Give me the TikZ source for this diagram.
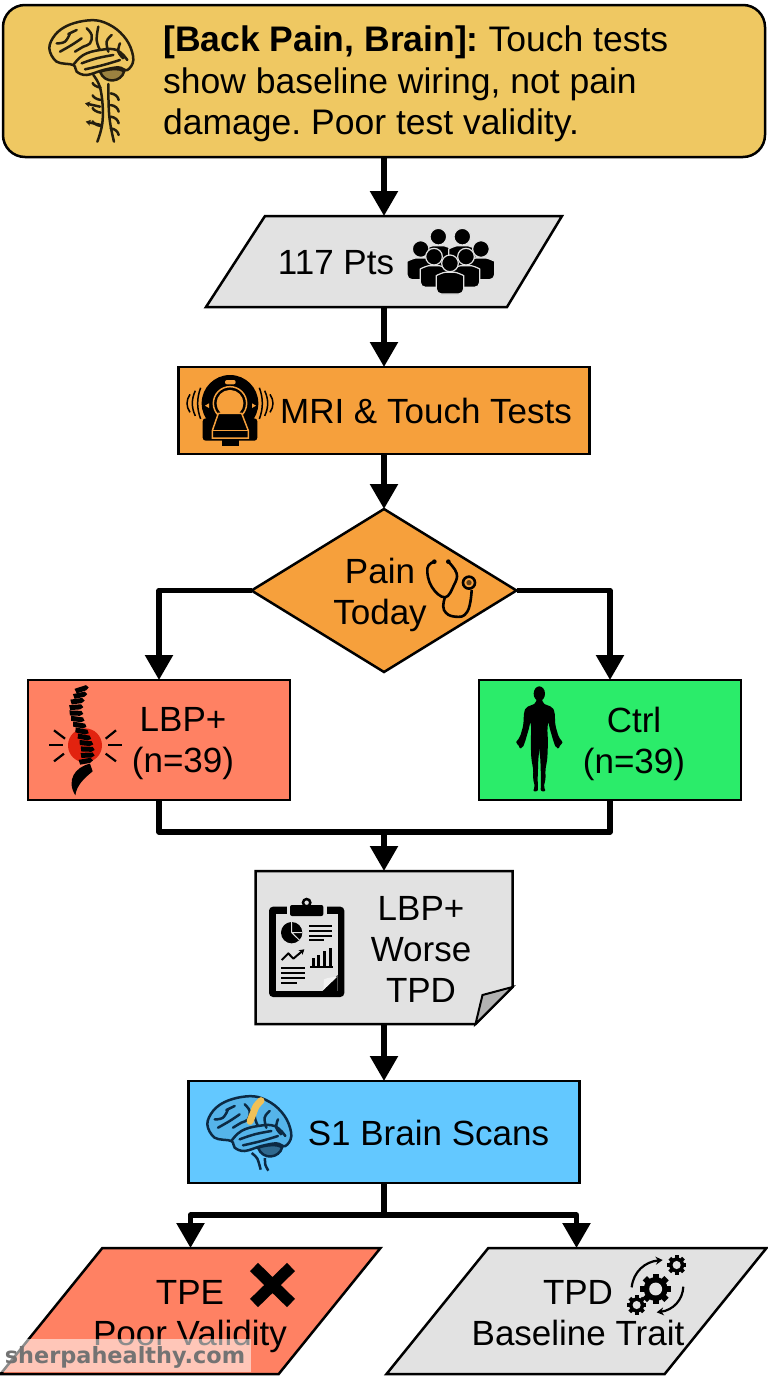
\documentclass[tikz,border=0pt]{standalone}
\usepackage{fontspec}
\setmainfont{Liberation Sans}
\newfontfamily\markfont{DejaVu Sans}
\usetikzlibrary{shapes.geometric,arrows.meta,positioning}
\definecolor{claimcol}{HTML}{EFC862}
\definecolor{greycol}{HTML}{E2E2E2}
\definecolor{orangecol}{HTML}{F6A03C}
\definecolor{redcol}{HTML}{FF8163}
\definecolor{greencol}{HTML}{2BEC6A}
\definecolor{bluecol}{HTML}{63C8FF}
\definecolor{inkcol}{HTML}{0C2A44}
\definecolor{cortexcol}{HTML}{55B4EA}
\definecolor{hurtcol}{HTML}{E2230F}
\tikzstyle{outlined} = [draw=black, line width=2.5pt, inner sep=0pt, outer sep=0pt]
\tikzstyle{box} = [outlined, rectangle, minimum width=#1]
\tikzstyle{para} = [outlined, trapezium, trapezium stretches=true, fill=greycol, inner sep=1pt, trapezium left angle=60, trapezium right angle=120]
\tikzstyle{frame} = [rectangle, inner sep=0pt, outer sep=0pt]
\tikzstyle{txt} = [font=\fontsize{35}{41}\selectfont, align=center, inner sep=0pt]
\tikzstyle{conn} = [draw, line width=5.5pt, line join=round]
\tikzstyle{line} = [conn, -{Triangle[width=27pt,length=25pt]}]
\tikzset{
  pics/brainicon/.style n args={3}{code={
    \draw [#1, line width=2.5pt, fill=#2] plot [smooth cycle, tension=.6] coordinates {(100,165) (50,155) (28,115) (45,75) (80,48) (130,33) (180,33) (230,58) (266,100) (280,150) (262,180) (235,172) (190,180) (140,195) (110,185)};
    \draw [#1, line width=2.5pt, fill=#3] (180,185) .. controls (200,178) and (240,172) .. (252,185) .. controls (245,215) and (195,225) .. (180,185);
    \draw [#1, line width=2.5pt, line cap=round] plot [smooth, tension=.7] coordinates {(50,100) (75,95) (90,70)}
      plot [smooth, tension=.7] coordinates {(85,72) (110,60)}
      plot [smooth, tension=.7] coordinates {(60,125) (95,105) (125,85)}
      plot [smooth, tension=.7] coordinates {(140,55) (155,75) (150,100) (130,110) (105,125)}
      plot [smooth, tension=.7] coordinates {(175,50) (170,90) (180,120)}
      plot [smooth, tension=.7] coordinates {(215,75) (200,95) (205,125)}
      plot [smooth, tension=.7] coordinates {(240,100) (235,125) (250,145)}
      plot [smooth, tension=.7] coordinates {(100,165) (130,135) (180,120) (230,120) (262,150)}
      plot [smooth, tension=.7] coordinates {(125,160) (170,145) (220,135)}
      plot [smooth, tension=.7] coordinates {(135,178) (190,165) (240,150)};
  }},
  pics/gearicon/.style={code={
    \fill (0,0) circle (#1*0.78);
    \foreach \a in {0,45,...,315}
      \fill [rotate=\a] (-#1*.2,0) rectangle (#1*.2,#1);
    \fill [greycol] (0,0) circle (#1*.42);
  }},
  pics/headicon/.style={code={
    \draw [greycol, line width=1.2pt, fill=black, rounded corners=5pt] (-41,92) -- (-41,52) .. controls (-41,36) and (-20,27) .. (0,27) .. controls (20,27) and (41,36) .. (41,52) -- (41,92) -- cycle;
    \draw [greycol, line width=1.2pt, fill=black] (0,0) circle (25);
  }}
}
\begin{document}
\frenchspacing
\begin{tikzpicture}[x=1pt, y=-1pt]
    \useasboundingbox (0,0) rectangle (768,1376);
    \node [box=762pt, minimum height=152pt, fill=claimcol, rounded corners=22pt] (claim) at (384,81) {};
    \node [frame, below=59pt of claim, minimum width=356pt, minimum height=91pt] (pts) {};
    \draw [line width=2.5pt, fill=greycol] ([xshift=59pt]pts.north west) -- (pts.north east) -- ([xshift=-55pt]pts.south east) -- (pts.south west) -- cycle;
    \node [box=411pt, below=60pt of pts, minimum height=87pt, fill=orangecol] (mri) {};
    \node [outlined, diamond, below=55pt of mri, minimum width=265pt, minimum height=163pt, fill=orangecol] (pain) {};
    \node [box=262pt, below=8pt of pain, xshift=-225pt, minimum height=120pt, fill=redcol] (lbp) {};
    \node [box=262pt, below=8pt of pain, xshift=226pt, minimum height=120pt, fill=greencol] (ctrl) {};
    \node [frame, below=199pt of pain, minimum width=257pt, minimum height=153pt] (report) {};
    \draw [line width=2.5pt, fill=greycol] (report.north west) -- (report.north east) -- ([yshift=37pt]report.south east) -- ([xshift=-37pt]report.south east) -- (report.south west) -- cycle;
    \draw [line width=2pt, fill=gray!60] ([xshift=-37pt]report.south east) .. controls ([xshift=-33pt,yshift=15pt]report.south east) .. ([xshift=-30pt,yshift=29pt]report.south east) -- ([yshift=37pt]report.south east) -- cycle;
    \node [box=391pt, below=57pt of report, minimum height=102pt, fill=bluecol] (sbrain) {};
    \node [para, below=65pt of sbrain, xshift=-193.5pt, minimum width=380pt, minimum height=126pt, fill=redcol] (tpe) {};
    \node [para, below=65pt of sbrain, xshift=192.5pt, minimum width=380pt, minimum height=126pt] (tpd) {};
    % labels
    \node [txt, align=left, anchor=north west, font=\fontsize{35.5}{41.5}\selectfont] (claimtxt) at (163,26) {\textbf{[Back Pain, Brain]:} Touch tests\\show baseline wiring, not pain\\damage. Poor test validity.};
    \node [txt] (ptstxt) at (336,263) {117 Pts};
    \node [txt] (mritxt) at (426,411) {MRI \& Touch Tests};
    \node [txt] (paintxt) at (380,595) {Pain\\Today};
    \node [txt] (lbptxt) at (183,744) {LBP+\\(n=39)};
    \node [txt] (ctrltxt) at (634,744) {Ctrl\\(n=39)};
    \node [txt] (reporttxt) at (421,949.5) {LBP+\\Worse\\TPD};
    \node [txt] (sbraintxt) at (428.5,1133) {S1 Brain Scans};
    \node [txt] (tpetxt) at (190,1317) {TPE\\Poor Validity};
    \node [txt] (tpdtxt) at (578,1313) {TPD\\Baseline Trait};
    % connectors
    \path [line] (claim) -- (pts);
    \path [line] (pts) -- (mri);
    \path [line] (mri) -- (pain);
    \path [line] (pain.west) -| (lbp.north);
    \path [line] (pain.east) -| (ctrl.north);
    \coordinate [above=39pt of report] (merge);
    \path [conn] (lbp.south) |- (merge);
    \path [conn] (ctrl.south) |- (merge);
    \path [line] (merge) -- (report);
    \path [line] (report) -- (sbrain);
    \coordinate [below=32pt of sbrain] (split);
    \path [conn] (sbrain) -- (split);
    \path [line] (split) -| (tpe.north);
    \path [line] (split) -| (tpd.north);
    % top brain with cord
    \pic [scale=1/3] at (40,10) {brainicon={black!85!claimcol}{claimcol}{black!35!claimcol}};
    \begin{scope}[shift={(40,10)}, scale=1/3, line width=2.5pt, line cap=round, black!85!claimcol]
      \draw plot [smooth, tension=.7] coordinates {(160,195) (182,240) (188,330) (172,395)};
      \draw plot [smooth, tension=.7] coordinates {(205,222) (208,320) (222,395)};
      \foreach \ya in {250,285,320,355}
        \draw (212,\ya) .. controls (226,\ya+2) and (234,\ya+10) .. (236,\ya+20);
      \foreach \ya in {225,262,300,340}
        \draw (182,\ya+8) .. controls (170,\ya+6) and (160,\ya) .. (158,\ya-6);
      \draw [-{Stealth[length=5pt,width=6pt]}] (180,290) -- (135,280);
      \draw [-{Stealth[length=5pt,width=6pt]}] (183,345) -- (137,335);
    \end{scope}
    % people
    \foreach \hx/\hy in {115/35,187/35,62/72,243/72,102/95,198/95,150/115}
      \pic [scale=1/3] at (400+\hx/3,225+\hy/3) {headicon};
    % scanner
    \begin{scope}[shift={(180,370)}, scale=1/3]
      \fill (150,100) circle (85);
      \fill [rounded corners=3pt] (68,145) rectangle (232,212);
      \fill (125,205) rectangle (178,227);
      \draw [orangecol, line width=1.5pt, fill=orangecol] (150,100) circle (38);
      \draw [orangecol, line width=1.5pt] (150,100) circle (50);
      \fill [orangecol, rounded corners=2pt] (135,30) rectangle (167,43);
      \draw [orangecol, line width=1.5pt, fill=black] (115,130) -- (185,130) -- (205,182) -- (205,204) -- (97,204) -- (97,182) -- cycle;
      \draw [orangecol, line width=1pt] (97,182) -- (205,182);
      \fill [orangecol] (75,107) -- (87,100) -- (87,114) -- cycle;
      \fill [orangecol] (228,107) -- (216,100) -- (216,114) -- cycle;
      \foreach \xa/\ya in {22/30,38/42,54/52} {
        \draw [line width=1.5pt] (\xa+8,100-\ya*.9) .. controls (\xa-4,100-\ya*.3) and (\xa-4,100+\ya*.3) .. (\xa+8,100+\ya*.9);
        \draw [line width=1.5pt] (300-\xa-8,100-\ya*.9) .. controls (300-\xa+4,100-\ya*.3) and (300-\xa+4,100+\ya*.3) .. (300-\xa-8,100+\ya*.9);
      }
    \end{scope}
    % stethoscope
    \begin{scope}[shift={(170,360)}, scale=1/3, line width=2.6pt]
      \draw plot [smooth, tension=.7] coordinates {(793,605) (772,625) (785,680) (825,712) (852,675) (860,640) (835,605)};
      \fill (793,605) circle (7);
      \fill (835,605) circle (7);
      \draw plot [smooth, tension=.8] coordinates {(825,712) (822,750) (855,770) (892,755) (905,690)};
      \draw [fill=orangecol] (897,668) circle (18);
      \fill [black!60!orangecol] (897,668) circle (8);
    \end{scope}
    % spine
    \begin{scope}[shift={(40,682)}, scale=1/3]
      \fill [hurtcol] (135,190) circle (51);
      \foreach \xa/\ya/\xb/\yb in {28/190/68/190,42/145/75/170,42/238/72/215,205/190/245/190,197/170/228/145,197/215/228/238}
        \draw [line width=2.2pt] (\xa,\ya) -- (\xb,\yb);
      \foreach \xa/\ya/\ra in {125/22/18,120/40/12,112/58/8,108/76/4,108/94/-2,112/112/-8,118/130/-10,125/148/-12,132/166/-10,138/184/-6,142/202/-2,142/220/2,137/238/10}
        \fill [rotate around={\ra:(\xa,\ya)}] (\xa-20,\ya-8) -- (\xa+16,\ya-8) -- (\xa+22,\ya+1) -- (\xa+12,\ya+7) -- (\xa-18,\ya+7) -- cycle;
      \fill (150,245) .. controls (105,255) and (78,295) .. (106,340) .. controls (110,312) and (128,292) .. (158,268) -- cycle;
    \end{scope}
    % figure
    \begin{scope}[shift={(505,682)}, scale=1/3]
      \fill (103,35) ellipse (17 and 22);
      \foreach \sgn in {1,-1}
        \fill [shift={(103,0)}, xscale=\sgn, rounded corners=2pt] (-1,50) -- (9,50) -- (10,64) -- (40,76) -- (46,90) -- (48,130) -- (58,165) -- (72,183) -- (62,186) -- (60,200) -- (50,198) -- (43,180) -- (30,135) -- (27,118) -- (24,140) -- (26,180) -- (24,230) -- (18,265) -- (19,290) -- (13,315) -- (20,328) -- (4,328) -- (5,290) -- (3,230) -- (-1,195) -- cycle;
    \end{scope}
    % clipboard
    \begin{scope}[shift={(180,860)}, scale=1/3]
      \fill [rounded corners=4pt] (267,140) rectangle (493,411);
      \fill [greycol] (287,161) rectangle (473,393);
      \fill [greycol] (320,135) rectangle (440,172);
      \fill [rounded corners=2pt] (330,135) rectangle (430,168);
      \draw [line width=2.5pt, fill=greycol] (380,128) circle (11);
      \fill (335,218) circle (32);
      \draw [greycol, line width=1pt] (335,218) -- (335,186) (335,218) -- (367,218) (335,218) -- (358,240);
      \foreach \ya in {198,213,228}
        \draw [line width=1.9pt] (388,\ya) -- (457,\ya);
      \draw [line width=1.9pt] (388,241) -- (432,241);
      \draw [line width=2pt, line join=round, -{Stealth[length=5pt,width=6pt]}] (305,300) -- (325,280) -- (340,296) -- (373,268);
      \foreach \xa/\ya in {397/295,412/285,430/272,448/265}
        \fill (\xa,\ya) rectangle (\xa+9,320);
      \draw [line width=1.9pt] (390,322) -- (458,322);
      \foreach \ya in {325,340,355}
        \draw [line width=1.9pt] (303,\ya) -- (375,\ya);
      \draw [line width=1.9pt] (303,370) -- (352,370);
      \fill (428,393) -- (473,345) -- (473,393) -- cycle;
      \fill [white!95!black] (430,390) -- (472,350) .. controls (460,352) and (445,352) .. (432,358) -- cycle;
    \end{scope}
    % scan brain
    \pic [scale=1/3] at (198,1086) {brainicon={inkcol}{cortexcol}{inkcol!60!bluecol}};
    \begin{scope}[shift={(200,1088)}, scale=1/3]
      \draw [line width=7pt, claimcol!90!orange, line cap=round] plot [smooth] coordinates {(183,38) (168,55) (160,75) (150,100)};
      \draw [line width=2.5pt, inkcol] plot [smooth] coordinates {(155,195) (172,212) (182,245)};
      \draw [line width=2.5pt, inkcol] plot [smooth] coordinates {(195,210) (196,230) (205,248)};
    \end{scope}
    % cross
    \draw [line width=11.5pt] (254,1267) -- (291,1303) (291,1267) -- (254,1303);
    % gears
    \begin{scope}[shift={(620,1250)}, scale=1/3]
      \pic [scale=1/3] at (107,117) {gearicon=46};
      \pic [scale=1/3] at (170,45) {gearicon=29};
      \pic [scale=1/3] at (50,165) {gearicon=29};
      \draw [line width=2.2pt, -{Stealth[length=7pt,width=8pt]}] (35,112) .. controls (40,65) and (75,35) .. (128,30);
      \draw [line width=2.2pt, -{Stealth[length=7pt,width=8pt]}] (190,110) .. controls (188,150) and (160,180) .. (110,187);
    \end{scope}
    % site mark
    \fill [white, opacity=.55] (0,1339) rectangle (251,1372);
    \node [inner sep=0pt, text=black!55, font=\markfont\bfseries\fontsize{22.4}{24}\selectfont] (sitemark) at (125,1357) {sherpahealthy.com};
\end{tikzpicture}
\end{document}
